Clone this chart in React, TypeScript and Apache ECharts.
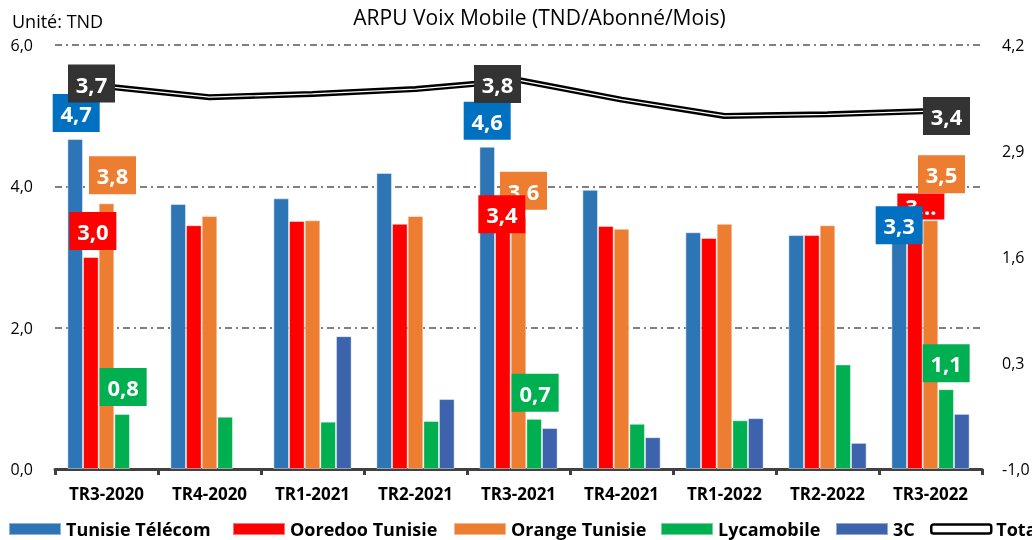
import React, { useEffect, useRef } from "react";
import * as echarts from "echarts";

const categories = ["TR3-2020", "TR4-2020", "TR1-2021", "TR2-2021", "TR3-2021", "TR4-2021", "TR1-2022", "TR2-2022", "TR3-2022"];
const tunisieTelecom = [4.67, 3.75, 3.83, 4.19, 4.56, 3.95, 3.35, 3.31, 3.28];
const ooredoo = [3.0, 3.45, 3.51, 3.47, 3.42, 3.44, 3.27, 3.31, 3.32];
const orange = [3.76, 3.58, 3.52, 3.58, 3.57, 3.4, 3.47, 3.45, 3.52];
const lycamobile = [0.78, 0.74, 0.67, 0.68, 0.71, 0.64, 0.69, 1.48, 1.13];
const c3: (number | null)[] = [null, null, 1.88, 0.99, 0.58, 0.45, 0.72, 0.37, 0.78];
const total = [3.69, 3.56, 3.6, 3.66, 3.77, 3.53, 3.33, 3.35, 3.39];

const labeledIndices = [0, 4, 8];
const ooredooTruncatedIndex = 8;

// label offsets [dx, dy] for labeled indices (0, 4, 8)
const OFFSETS: Record<string, number[][]> = {
  tt: [[1, 0], [0, 0], [0, 14]],
  oo: [[2, 0], [-1, 13], [6, -8]],
  or: [[6, -2], [5, 0], [11, -20]],
  ly: [[1, -1], [1, 0], [0, 0]],
  tot: [[-15, -3], [-21, 4], [16, 5]],
};

const FONT = "'Open Sans', sans-serif";
const fmt = (v: number) => v.toFixed(1).replace(".", ",");

function buildData(values: (number | null)[], key: string | null, bg: string, isLine = false) {
  return values.map((v, i) => {
    const k = labeledIndices.indexOf(i);
    if (key === null || k < 0 || v === null) return v;
    const truncated = key === "oo" && i === ooredooTruncatedIndex;
    return {
      value: v,
      label: {
        show: true,
        position: isLine ? "inside" : "top",
        distance: 7,
        offset: OFFSETS[key][k],
        formatter: truncated ? "3..." : fmt(v),
        backgroundColor: bg,
        color: "#fff",
        fontFamily: FONT,
        fontWeight: "bold",
        fontSize: 22,
        lineHeight: 26,
        width: 33,
        align: "center",
        padding: truncated ? [0, 7] : [6, 7],
      },
    };
  });
}

export default function App() {
  const ref = useRef<HTMLDivElement>(null);
  useEffect(() => {
    if (!ref.current) return;
    const chart = echarts.init(ref.current, undefined, { renderer: "svg" });
    const barBorder = { borderColor: "rgba(255,255,255,0.45)", borderWidth: 1 };
    const legendBase = {
      top: 520,
      padding: 0,
      itemWidth: 52,
      itemHeight: 12,
      icon: "rect",
      textStyle: { fontFamily: FONT, fontWeight: "bold", fontSize: 18, color: "#000" },
    };
    const barCommon = { type: "bar", barGap: "0%", barCategoryGap: "24%" };
    const overlay = (name: string, z: number, data: any[]) => ({
      ...barCommon,
      name,
      xAxisIndex: 1,
      z,
      silent: true,
      itemStyle: { color: "rgba(0,0,0,0)", borderWidth: 0 },
      data,
    });
    const option: any = {
      animation: false,
      textStyle: { fontFamily: FONT },
      grid: { left: 55, right: 50, top: 45, bottom: 71, containLabel: false, outerBoundsMode: "none" },
      graphic: [
        {
          type: "text",
          x: 539.5,
          y: 17,
          style: { text: "ARPU Voix Mobile (TND/Abonné/Mois)", fontSize: 21, fontFamily: FONT, fill: "#000", align: "center", verticalAlign: "middle" },
        },
        {
          type: "text",
          x: 12,
          y: 21,
          style: { text: "Unité: TND", fontSize: 18, fontFamily: FONT, fill: "#000", align: "left", verticalAlign: "middle" },
        },
      ],
      legend: [
        { ...legendBase, left: 8, data: ["Tunisie Télécom"] },
        { ...legendBase, left: 232, data: ["Ooredoo Tunisie"] },
        { ...legendBase, left: 453, data: ["Orange Tunisie"] },
        { ...legendBase, left: 660, data: ["Lycamobile"] },
        { ...legendBase, left: 835, data: ["3C"] },
        {
          ...legendBase,
          left: 930,
          itemWidth: 60,
          itemHeight: 9,
          data: [{ name: "Total", icon: "roundRect", itemStyle: { color: "#fff", borderColor: "#000", borderWidth: 2.5 } }],
        },
      ],
      xAxis: [
        {
          type: "category",
          data: categories,
          axisLine: { lineStyle: { color: "#404040", width: 3 } },
          axisTick: { show: true, length: 6, lineStyle: { color: "#404040", width: 3 } },
          axisLabel: { color: "#000", fontWeight: "bold", fontSize: 17, margin: 16, fontFamily: FONT, interval: 0 },
        },
        {
          type: "category",
          data: categories,
          show: false,
        },
      ],
      yAxis: [
        {
          type: "value",
          min: 0,
          max: 6,
          interval: 2,
          axisLine: { show: false },
          axisTick: { show: false },
          axisLabel: { formatter: (v: number) => fmt(v), color: "#000", fontSize: 16, margin: 22, fontFamily: FONT },
          splitLine: { show: true, lineStyle: { color: "#808080", width: 2, type: [7, 4, 2, 4] } },
        },
        {
          type: "value",
          min: -1,
          max: 4.2,
          interval: 1.3,
          axisLine: { show: false },
          axisTick: { show: false },
          axisLabel: { formatter: (v: number) => fmt(v), color: "#000", fontSize: 16, margin: 20, fontFamily: FONT },
          splitLine: { show: false },
        },
      ],
      series: [
        { ...barCommon, name: "Tunisie Télécom", z: 2, itemStyle: { color: "#2E75B6", ...barBorder }, data: tunisieTelecom },
        { ...barCommon, name: "Ooredoo Tunisie", z: 2, itemStyle: { color: "#FF0000", ...barBorder }, data: ooredoo },
        { ...barCommon, name: "Orange Tunisie", z: 2, itemStyle: { color: "#ED7D31", ...barBorder }, data: orange },
        { ...barCommon, name: "Lycamobile", z: 2, itemStyle: { color: "#00B050", ...barBorder }, data: lycamobile },
        { ...barCommon, name: "3C", z: 2, itemStyle: { color: "#3C63AC", ...barBorder }, data: c3 },
        overlay("lbl-tt", 14, buildData(tunisieTelecom, "tt", "#0070C0")),
        overlay("lbl-oo", 13, buildData(ooredoo, "oo", "#FF0000")),
        overlay("lbl-or", 12, buildData(orange, "or", "#ED7D31")),
        overlay("lbl-ly", 11, buildData(lycamobile, "ly", "#00B050")),
        overlay("lbl-3c", 10, c3),
        {
          name: "Total",
          type: "line",
          yAxisIndex: 1,
          z: 6,
          symbol: "none",
          itemStyle: { color: "#000" },
          lineStyle: { color: "#000", width: 6 },
          data: total,
        },
        {
          name: "TotalInner",
          type: "line",
          yAxisIndex: 1,
          z: 7,
          symbol: "none",
          silent: true,
          itemStyle: { color: "#fff" },
          lineStyle: { color: "#fff", width: 1.3 },
          data: total,
        },
        {
          name: "TotalLabels",
          type: "line",
          yAxisIndex: 1,
          z: 15,
          symbol: "circle",
          symbolSize: 1,
          showSymbol: true,
          silent: true,
          itemStyle: { color: "rgba(0,0,0,0)" },
          lineStyle: { width: 0, opacity: 0 },
          data: buildData(total, "tot", "#333333", true),
        },
      ],
    };
    chart.setOption(option);
    return () => chart.dispose();
  }, []);
  return <div ref={ref} style={{ position: "fixed", left: 0, top: 0, width: 1032, height: 540 }} />;
}
